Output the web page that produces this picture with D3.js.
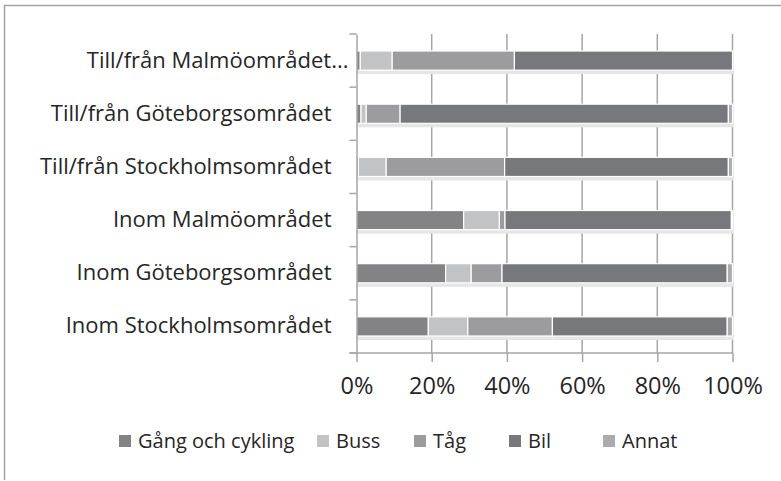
<!DOCTYPE html>
<html>
<head>
<meta charset="utf-8">
<script src="https://cdn.jsdelivr.net/npm/d3@7"></script>
<style>
  body { margin: 0; background: #fff; }
  text { font-family: "Open Sans", sans-serif; fill: #262626; }
</style>
</head>
<body>
<svg></svg>
<script>
// Resor per färdsätt

let svgWidth = 781;
let svgHeight = 481;

let categories = ["Till/från Malmöområdet...", "Till/från Göteborgsområdet", "Till/från Stockholmsområdet",
	"Inom Malmöområdet", "Inom Göteborgsområdet", "Inom Stockholmsområdet"];
let series = ["Gång och cykling", "Buss", "Tåg", "Bil", "Annat"];
let gang = [1.0, 1.2, 0.5, 28.5, 23.7, 19.1];
let buss = [8.5, 1.4, 7.4, 9.5, 6.8, 10.5];
let tag = [32.5, 9.0, 31.5, 1.5, 8.2, 22.5];
let bil = [58.0, 87.3, 59.5, 60.2, 59.9, 46.5];
let annat = [0.0, 1.1, 1.1, 0.3, 1.4, 1.4];
let ticks = [0, 0.2, 0.4, 0.6, 0.8, 1];
let colors = ["#838385", "#c2c3c4", "#9c9c9f", "#77787b", "#acacae"];

let svg = d3.select("svg")
	.attr("width", svgWidth)
	.attr("height", svgHeight);

// ram
svg.append("path")
	.attr("d", "M4.5,480 V5.5 H781")
	.attr("fill", "none")
	.attr("stroke", "#a3a3a3")
	.attr("stroke-width", 1.5);

let plotLeft = 356.5, plotRight = 732.5, plotTop = 34, plotBottom = 353;

let x = d3.scaleLinear().domain([0, 1]).range([plotLeft, plotRight]);
let y = d3.scaleBand().domain(categories).range([plotTop, plotBottom]).paddingInner(0.64).paddingOuter(0.32);
let yb = d3.scaleBand().domain(categories).range([plotTop, plotBottom]);

let rows = categories.map(function (c, i) {
	let r = { cat: c };
	r[series[0]] = gang[i];
	r[series[1]] = buss[i];
	r[series[2]] = tag[i];
	r[series[3]] = bil[i];
	r[series[4]] = annat[i];
	return r;
});
let stack = d3.stack().keys(series).offset(d3.stackOffsetExpand)(rows);

// gridlines
svg.append("g").selectAll("line")
	.data(ticks.slice(1))
	.enter().append("line")
	.attr("x1", function (d) { return x(d); })
	.attr("x2", function (d) { return x(d); })
	.attr("y1", plotTop).attr("y2", plotBottom)
	.attr("stroke", "#a6a6a6")
	.attr("stroke-width", 1.5);

// skuggor
svg.append("g").selectAll("rect")
	.data(categories)
	.enter().append("rect")
	.attr("x", plotLeft)
	.attr("y", function (d) { return y(d) + y.bandwidth() - 1; })
	.attr("width", plotRight - plotLeft + 1)
	.attr("height", 5)
	.attr("fill", "#e6e6e6");

svg.append("g").selectAll("g")
	.data(stack)
	.enter().append("g")
	.attr("fill", function (d, i) { return colors[i]; })
	.selectAll("rect")
	.data(function (d) { return d; })
	.enter().append("rect")
	.attr("x", function (d) { return x(d[0]); })
	.attr("y", function (d) { return y(d.data.cat); })
	.attr("width", function (d) { return Math.max(0, x(d[1]) - x(d[0])); })
	.attr("height", y.bandwidth())
	.attr("stroke", "#fff")
	.attr("stroke-width", 1.2);

// y-axel
let yAxis = svg.append("g")
	.attr("transform", "translate(" + plotLeft + ",0)")
	.call(d3.axisLeft(yb).tickSize(0).tickPadding(25));
yAxis.select(".domain").attr("stroke", "#a6a6a6").attr("stroke-width", 1.5);
yAxis.selectAll("text").attr("font-size", 22).attr("fill", "#262626")
	.attr("font-family", "'Open Sans', sans-serif")
	.attr("dx", function (d) { return d.endsWith("...") ? 17 : 0; });
yAxis.selectAll(".sep").data(categories.concat(["end"])).enter().append("line")
	.attr("x1", -7).attr("x2", 0)
	.attr("y1", function (d, i) { return plotTop + i * yb.step(); })
	.attr("y2", function (d, i) { return plotTop + i * yb.step(); })
	.attr("stroke", "#a6a6a6").attr("stroke-width", 1.5);

// x-axel
let xAxis = svg.append("g")
	.attr("transform", "translate(0," + plotBottom + ")")
	.call(d3.axisBottom(x).tickValues(ticks).tickFormat(d3.format(".0%")).tickSize(9).tickSizeOuter(0).tickPadding(15));
xAxis.select(".domain").attr("d", "M" + (plotLeft - 7) + ",0H" + plotRight).attr("stroke", "#a6a6a6").attr("stroke-width", 1.5);
xAxis.selectAll("line").attr("stroke", "#a6a6a6").attr("stroke-width", 1.5);
xAxis.selectAll("text").attr("font-size", 23.5).attr("fill", "#262626")
	.attr("font-family", "'Open Sans', sans-serif");

// legend
let legendX = [119, 317, 414, 509, 603];
let legend = svg.append("g").selectAll("g")
	.data(series)
	.enter().append("g")
	.attr("transform", function (d, i) { return "translate(" + legendX[i] + ",441)"; });
legend.append("rect")
	.attr("x", 0).attr("y", -6).attr("width", 12).attr("height", 12)
	.attr("fill", function (d, i) { return colors[i]; });
legend.append("text")
	.attr("x", 19).attr("y", 0).attr("dy", "0.35em")
	.attr("font-size", 20)
	.text(function (d) { return d; });
</script>
</body>
</html>
